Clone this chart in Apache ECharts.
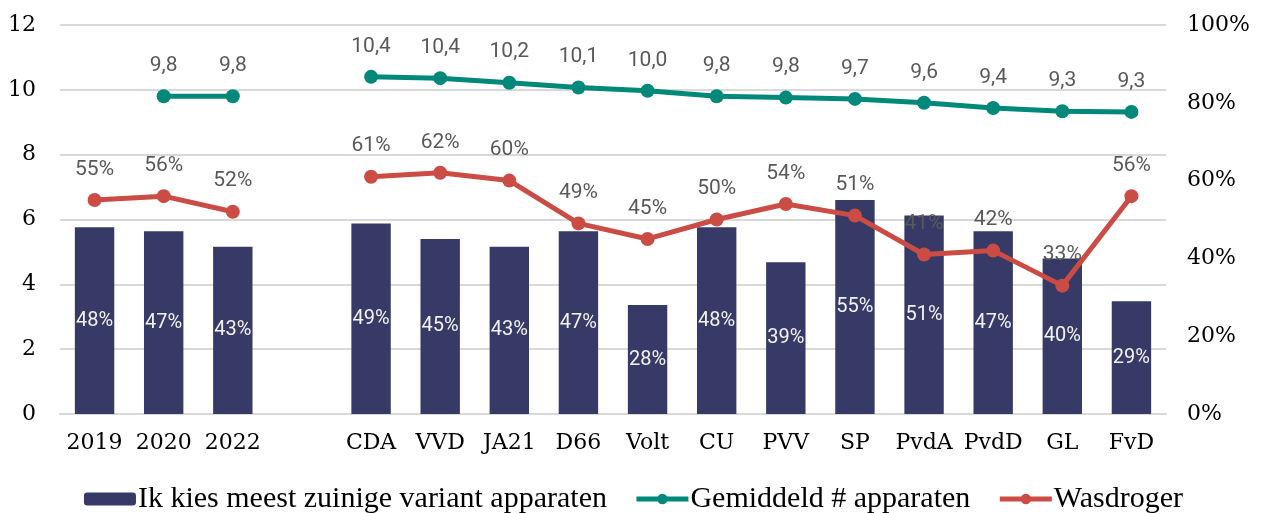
<!DOCTYPE html>
<html>
<head>
<meta charset="utf-8">
<script src="https://cdn.jsdelivr.net/npm/echarts@6/dist/echarts.min.js"></script>
<style>
  html, body { margin: 0; padding: 0; background: #fff; }
  #chart { width: 1267px; height: 513px; }
</style>
</head>
<body>
<div id="chart"></div>
<script>
// categorieen (lege plek tussen jaren en partijen)
const categories = ['2019', '2020', '2022', '', 'CDA', 'VVD', 'JA21', 'D66', 'Volt', 'CU', 'PVV', 'SP', 'PvdA', 'PvdD', 'GL', 'FvD'];

// % dat meest zuinige variant kiest (rechter as)
const zuinig = [48, 47, 43, null, 49, 45, 43, 47, 28, 48, 39, 55, 51, 47, 40, 29];
// gemiddeld aantal apparaten (linker as)
const apparaten = [null, 9.8, 9.8, null, 10.4, 10.36, 10.22, 10.07, 9.97, 9.8, 9.76, 9.72, 9.6, 9.44, 9.34, 9.32];
// % met wasdroger (rechter as)
const wasdroger = [55, 56, 52, null, 61, 62, 60, 49, 45, 50, 54, 51, 41, 42, 33, 56];

const leftTicks = { min: 0, max: 12, interval: 2 };
const rightTicks = { min: 0, max: 100, interval: 20 };

const serif = 'DejaVu Serif';
const sans = 'Roboto';

var chartDom = document.getElementById('chart');
var myChart = echarts.init(chartDom);
var option;

option = {
  animation: false,
  grid: { left: 60, right: 101, top: 25, bottom: 99 },
  legend: {
    top: 479,
    left: 'center',
    itemWidth: 52,
    itemHeight: 13,
    itemGap: 27,
    lineStyle: { width: 5 },
    textStyle: { fontFamily: 'Liberation Serif', fontSize: 30, color: '#000', padding: [0, 0, 0, -3] },
    data: ['Ik kies meest zuinige variant apparaten', 'Gemiddeld # apparaten', 'Wasdroger']
  },
  xAxis: {
    type: 'category',
    data: categories,
    axisLine: { lineStyle: { color: '#d9d9d9', width: 2 } },
    axisTick: { show: false },
    axisLabel: { interval: 0, fontFamily: serif, fontSize: 22, color: '#000', margin: 18 }
  },
  yAxis: [
    {
      type: 'value',
      min: leftTicks.min,
      max: leftTicks.max,
      interval: leftTicks.interval,
      axisLine: { show: false },
      axisTick: { show: false },
      axisLabel: { fontFamily: serif, fontSize: 22, color: '#000', margin: 24 },
      splitLine: { lineStyle: { color: '#d9d9d9', width: 2 } }
    },
    {
      type: 'value',
      min: rightTicks.min,
      max: rightTicks.max,
      interval: rightTicks.interval,
      axisLine: { show: false },
      axisTick: { show: false },
      axisLabel: { fontFamily: serif, fontSize: 22, color: '#000', margin: 21, formatter: '{value}%' },
      splitLine: { show: false }
    }
  ],
  series: [
    {
      name: 'Ik kies meest zuinige variant apparaten',
      type: 'bar',
      yAxisIndex: 1,
      data: zuinig,
      barCategoryGap: '43%',
      itemStyle: { color: '#373a66' },
      label: {
        show: true,
        position: 'inside',
        fontFamily: sans,
        fontSize: 20,
        color: '#f2f2f2',
        formatter: p => p.value + '%'
      }
    },
    {
      name: 'Gemiddeld # apparaten',
      type: 'line',
      yAxisIndex: 0,
      data: apparaten,
      symbol: 'circle',
      symbolSize: 14,
      itemStyle: { color: '#00897b' },
      lineStyle: { color: '#00897b', width: 5 },
      label: {
        show: true,
        position: 'top',
        distance: 13,
        fontFamily: sans,
        fontSize: 21,
        color: '#595959',
        formatter: p => p.value.toFixed(1).replace('.', ',')
      }
    },
    {
      name: 'Wasdroger',
      type: 'line',
      yAxisIndex: 1,
      data: wasdroger,
      symbol: 'circle',
      symbolSize: 14,
      itemStyle: { color: '#cb4c44' },
      lineStyle: { color: '#cb4c44', width: 5 },
      label: {
        show: true,
        position: 'top',
        distance: 13,
        fontFamily: sans,
        fontSize: 21,
        color: '#595959',
        formatter: p => p.value + '%'
      }
    }
  ]
};

option && myChart.setOption(option);
</script>
</body>
</html>
